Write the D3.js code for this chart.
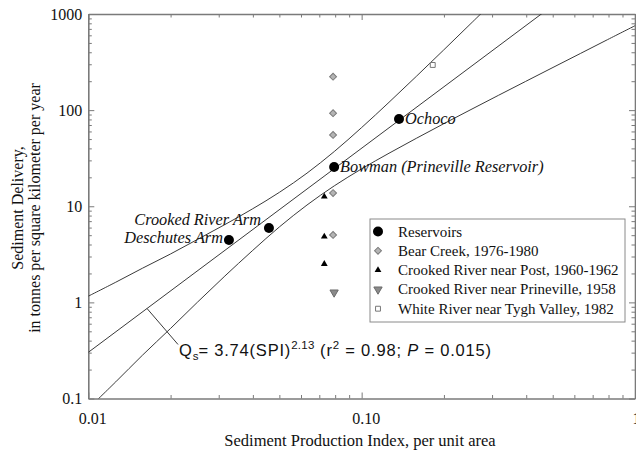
<!DOCTYPE html>
<html>
<head>
<meta charset="utf-8">
<script src="https://cdn.jsdelivr.net/npm/d3@7"></script>
<style>
  html, body { margin: 0; padding: 0; background: #fff; }
  svg { display: block; }
</style>
</head>
<body>
<svg id="chart" width="636" height="458"></svg>
<script>
// Reservoir survey results
const reservoirNames = ["Deschutes Arm", "Crooked River Arm", "Bowman (Prineville Reservoir)", "Ochoco"];
const reservoirSPI = [0.0327, 0.0458, 0.0793, 0.137];
const reservoirQs = [4.46, 5.95, 25.6, 81];

// Stream-gage sediment records
const bearCreekSPI = [0.0786, 0.0786, 0.0786, 0.0786, 0.0786];
const bearCreekQs = [223, 92.9, 55.2, 13.7, 5.03];
const postSPI = [0.073, 0.073, 0.073];
const postQs = [12.6, 4.83, 2.51];
const prinevilleSPI = [0.0793];
const prinevilleQs = [1.27];
const whiteRiverSPI = [0.182];
const whiteRiverQs = [295];

// Confidence band around the regression
const bandSPI = [0.01, 0.0126, 0.0158, 0.02, 0.0251, 0.0316, 0.0398, 0.0501, 0.0631, 0.0794,
                 0.1, 0.1259, 0.1585, 0.1995, 0.2512, 0.3162, 0.3981, 0.5012, 0.631, 0.7943, 1.0];
const bandUpper = [1.16, 1.62, 2.27, 3.19, 4.52, 6.45, 9.36, 14.0, 22.1, 37.1,
                   65.9, 120.6, 224.5, 422, 798, 1513, null, null, null, null, null];
const bandLower = [0.0785, 0.149, 0.283, 0.536, 1.007, 1.88, 3.44, 6.12, 10.3, 16.3,
                   24.5, 35.6, 50.9, 72.1, 101.4, 142.3, 199, 278, 388, 542, 755];

// Axis ticks
const xMajor = [0.01, 0.1, 1];
const xMajorLabels = ["0.01", "0.10", "1.00"];
const yMajor = [0.1, 1, 10, 100, 1000];
const yMajorLabels = ["0.1", "1", "10", "100", "1000"];

const legendLabels = ["Reservoirs", "Bear Creek, 1976-1980", "Crooked River near Post, 1960-1962",
                      "Crooked River near Prineville, 1958", "White River near Tygh Valley, 1982"];

const serif = "'Liberation Serif', 'Times New Roman', serif";
const sans = "'Liberation Sans', Arial, sans-serif";

const svg = d3.select("#chart");
const plotLeft = 88.3, plotRight = 635, plotTop = 14, plotBottom = 398.5;

const x = d3.scaleLog().domain([0.01, 1]).range([plotLeft, plotRight]);
const y = d3.scaleLog().domain([0.1, 1000]).range([plotBottom, plotTop]);

function minorTicks(lo, hi) {
  const out = [];
  for (let e = Math.floor(Math.log10(lo)); e < Math.ceil(Math.log10(hi)); e++) {
    for (let k = 2; k <= 9; k++) {
      const v = k * Math.pow(10, e);
      if (v > lo && v < hi) out.push(v);
    }
  }
  return out;
}
const xMinor = minorTicks(0.01, 1);
const yMinor = minorTicks(0.1, 1000);

// Clip region for the fitted curves
svg.append("defs").append("clipPath").attr("id", "plotClip")
  .append("rect").attr("x", plotLeft).attr("y", plotTop)
  .attr("width", plotRight - plotLeft).attr("height", plotBottom - plotTop);

// Axes: ticks point inward on all four sides
function styleAxis(g) {
  g.selectAll("path.domain").attr("stroke", "#7a7a7a").attr("stroke-width", 1.6);
  g.selectAll(".tick line").attr("stroke", "#7a7a7a").attr("stroke-width", 1);
  g.selectAll("text").attr("font-family", serif).attr("font-size", 16).attr("fill", "#111");
}
function drawAxis(axisFn, scale, transform, majors, minors, labels) {
  const gMinor = svg.append("g").attr("transform", transform)
    .call(axisFn(scale).tickValues(minors).tickSize(-3.5).tickFormat(""));
  gMinor.select("path.domain").remove();
  styleAxis(gMinor);
  const gMajor = svg.append("g").attr("transform", transform)
    .call(axisFn(scale).tickValues(majors).tickSize(-6).tickSizeOuter(0)
      .tickPadding(6).tickFormat((d, i) => labels ? labels[i] : ""));
  styleAxis(gMajor);
  return gMajor;
}
const gx = drawAxis(d3.axisBottom, x, `translate(0,${plotBottom})`, xMajor, xMinor, xMajorLabels);
// the last label sits at the page's right edge and runs off it
gx.selectAll("text").attr("dx", (d, i) => i === xMajor.length - 1 ? 11 : 4).attr("y", 14);
drawAxis(d3.axisTop, x, `translate(0,${plotTop})`, xMajor, xMinor, null);
drawAxis(d3.axisLeft, y, `translate(${plotLeft},0)`, yMajor, yMinor, yMajorLabels);
drawAxis(d3.axisRight, y, `translate(${plotRight},0)`, yMajor, yMinor, null);

// Axis titles
svg.append("text")
  .attr("x", 360).attr("y", 446)
  .attr("text-anchor", "middle")
  .attr("font-family", serif).attr("font-size", 16.5).attr("fill", "#111")
  .text("Sediment Production Index, per unit area");

const yTitle = svg.append("text")
  .attr("transform", "translate(23,208) rotate(-90)")
  .attr("text-anchor", "middle")
  .attr("font-family", serif).attr("font-size", 16).attr("fill", "#111");
yTitle.append("tspan").attr("x", 0).attr("y", 0).text("Sediment Delivery,");
yTitle.append("tspan").attr("x", 0).attr("y", 17).text("in tonnes per square kilometer per year");

// Log-log least-squares fit through the reservoir points
const lx = reservoirSPI.map(Math.log10);
const ly = reservoirQs.map(Math.log10);
const mx = d3.mean(lx), my = d3.mean(ly);
const slope = d3.sum(lx, (v, i) => (v - mx) * (ly[i] - my)) / d3.sum(lx, v => (v - mx) ** 2);
const intercept = my - slope * mx;
const fit = s => Math.pow(10, intercept + slope * Math.log10(s));

const plot = svg.append("g").attr("clip-path", "url(#plotClip)");
const fitLine = d3.line().x(d => x(d)).y(d => y(fit(d)));
plot.append("path")
  .attr("d", fitLine([0.01, 1]))
  .attr("fill", "none").attr("stroke", "#3a3a3a").attr("stroke-width", 1);

const bandLine = d3.line()
  .defined(d => d[1] != null)
  .x(d => x(d[0])).y(d => y(d[1]))
  .curve(d3.curveCatmullRom);
[bandUpper, bandLower].forEach(vals => {
  plot.append("path")
    .attr("d", bandLine(bandSPI.map((s, i) => [s, vals[i]])))
    .attr("fill", "none").attr("stroke", "#3a3a3a").attr("stroke-width", 1);
});

// Markers
const sym = (type, size) => d3.symbol().type(type).size(size)();
const markers = {
  bear: { path: sym(d3.symbolSquare, 24), rot: 45, fill: "#b4b4b4", stroke: "#7a7a7a" },
  post: { path: sym(d3.symbolTriangle, 20), rot: 0, fill: "#000", stroke: "none" },
  prine: { path: sym(d3.symbolTriangle, 30), rot: 180, fill: "#8a8a8a", stroke: "#6a6a6a" },
  white: { path: sym(d3.symbolSquare, 24), rot: 0, fill: "#fff", stroke: "#777" }
};
function drawMarkers(xs, ys, m) {
  svg.append("g").selectAll("path")
    .data(xs.map((s, i) => [s, ys[i]]))
    .join("path")
    .attr("d", m.path)
    .attr("transform", d => `translate(${x(d[0])},${y(d[1])}) rotate(${m.rot})`)
    .attr("fill", m.fill).attr("stroke", m.stroke).attr("stroke-width", 1);
}
drawMarkers(bearCreekSPI, bearCreekQs, markers.bear);
drawMarkers(postSPI, postQs, markers.post);
drawMarkers(prinevilleSPI, prinevilleQs, markers.prine);
drawMarkers(whiteRiverSPI, whiteRiverQs, markers.white);

svg.append("g").selectAll("circle")
  .data(reservoirSPI.map((s, i) => [s, reservoirQs[i]]))
  .join("circle")
  .attr("cx", d => x(d[0])).attr("cy", d => y(d[1])).attr("r", 5)
  .attr("fill", "#000");

// Reservoir names
const labelPlacement = [
  { anchor: "end", dx: -6, dy: 3 },
  { anchor: "end", dx: -8, dy: -3 },
  { anchor: "start", dx: 6, dy: 5 },
  { anchor: "start", dx: 6, dy: 5 }
];
svg.append("g").selectAll("text")
  .data(reservoirNames)
  .join("text")
  .attr("x", (d, i) => x(reservoirSPI[i]) + labelPlacement[i].dx)
  .attr("y", (d, i) => y(reservoirQs[i]) + labelPlacement[i].dy)
  .attr("text-anchor", (d, i) => labelPlacement[i].anchor)
  .attr("font-family", serif).attr("font-style", "italic").attr("font-size", 16.3)
  .attr("fill", "#111")
  .text(d => d);

// Regression equation with leader line
const leaderSPI = 0.0164;
const lx0 = x(leaderSPI), ly0 = y(fit(leaderSPI));
svg.append("line")
  .attr("x1", lx0).attr("y1", ly0).attr("x2", lx0 + 31).attr("y2", ly0 + 36)
  .attr("stroke", "#3a3a3a").attr("stroke-width", 1);

const eq = svg.append("text")
  .attr("x", lx0 + 32).attr("y", ly0 + 48)
  .attr("font-family", sans).attr("font-size", 16.5).attr("letter-spacing", 0.8)
  .attr("fill", "#111");
eq.append("tspan").text("Q");
eq.append("tspan").attr("font-size", 11.5).attr("dy", 4).attr("letter-spacing", 0).text("s");
eq.append("tspan").attr("dy", -4).text("= 3.74(SPI)");
eq.append("tspan").attr("font-size", 11.5).attr("dy", -7).attr("letter-spacing", 0.3).text("2.13");
eq.append("tspan").attr("dy", 7).text(" (r");
eq.append("tspan").attr("font-size", 11.5).attr("dy", -7).text("2");
eq.append("tspan").attr("dy", 7).text(" = 0.98; ");
eq.append("tspan").attr("font-style", "italic").text("P");
eq.append("tspan").text(" = 0.015)");

// Legend
const legend = svg.append("g").attr("transform", "translate(370,219)");
legend.append("rect").attr("width", 255).attr("height", 103)
  .attr("fill", "#fff").attr("stroke", "#8a8a8a").attr("stroke-width", 1);
const legendMarks = [null, markers.bear, markers.post, markers.prine, markers.white];
legendLabels.forEach((lab, i) => {
  const cy = 12.5 + i * 19.3;
  const row = legend.append("g").attr("transform", `translate(0,${cy})`);
  if (legendMarks[i] === null) {
    row.append("circle").attr("cx", 8).attr("cy", 0).attr("r", 5).attr("fill", "#000");
  } else {
    const m = legendMarks[i];
    row.append("path").attr("d", m.path)
      .attr("transform", `translate(8,0) rotate(${m.rot})`)
      .attr("fill", m.fill).attr("stroke", m.stroke).attr("stroke-width", 1);
  }
  row.append("text").attr("x", 28).attr("y", 5)
    .attr("font-family", serif).attr("font-size", 15).attr("fill", "#111")
    .text(lab);
});
</script>
</body>
</html>
